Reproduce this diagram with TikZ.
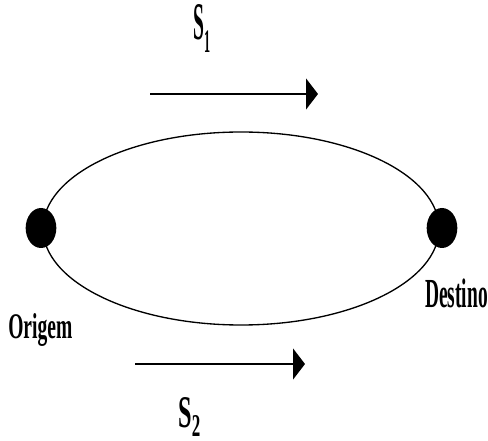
\documentclass[tikz,border=0pt]{standalone}
\usepackage{fontspec}
\setmainfont{Liberation Serif}
\usetikzlibrary{arrows.meta,shapes.geometric}

\tikzset{
  dot/.style={ellipse, fill=black, minimum width=23pt, minimum height=30pt, inner sep=0pt},
  lbl/.style={anchor=base west, inner sep=0pt, font=\bfseries},
  flow/.style={-{Triangle[length=9pt, width=23pt]}, line width=2.2pt}
}
\newcommand{\squeeze}[3]{\resizebox{#1}{#2}{#3}}

\begin{document}
\begin{tikzpicture}[x=0.75pt, y=-0.75pt]
  \useasboundingbox (0,0) rectangle (488,441);

  \draw[line width=1pt] (241,228.5) ellipse [x radius=198, y radius=96.5];
  \node[dot] (orig) at (41,228) {};
  \node[dot] (dest) at (442,228) {};
  \node[lbl] (origlbl) at (8,338) {\squeeze{48pt}{18.75pt}{Origem}};
  \node[lbl] (destlbl) at (425,307) {\squeeze{47pt}{21.5pt}{Destino}};

  \coordinate (s1a) at (150,94);
  \coordinate (s1b) at (318,94);
  \draw[flow] (s1a) -- (s1b);
  \node[lbl] (s1) at (193,40)
    {\squeeze{12.75pt}{26.25pt}{S\raisebox{-2.3pt}{\fontsize{6.2}{6.2}\selectfont 1}}};

  \coordinate (s2a) at (135,364);
  \coordinate (s2b) at (305,364);
  \draw[flow] (s2a) -- (s2b);
  \node[lbl] (s2) at (178,427)
    {\squeeze{16.5pt}{22.5pt}{S\raisebox{-2pt}{\fontsize{7}{7}\selectfont 2}}};
\end{tikzpicture}
\end{document}
